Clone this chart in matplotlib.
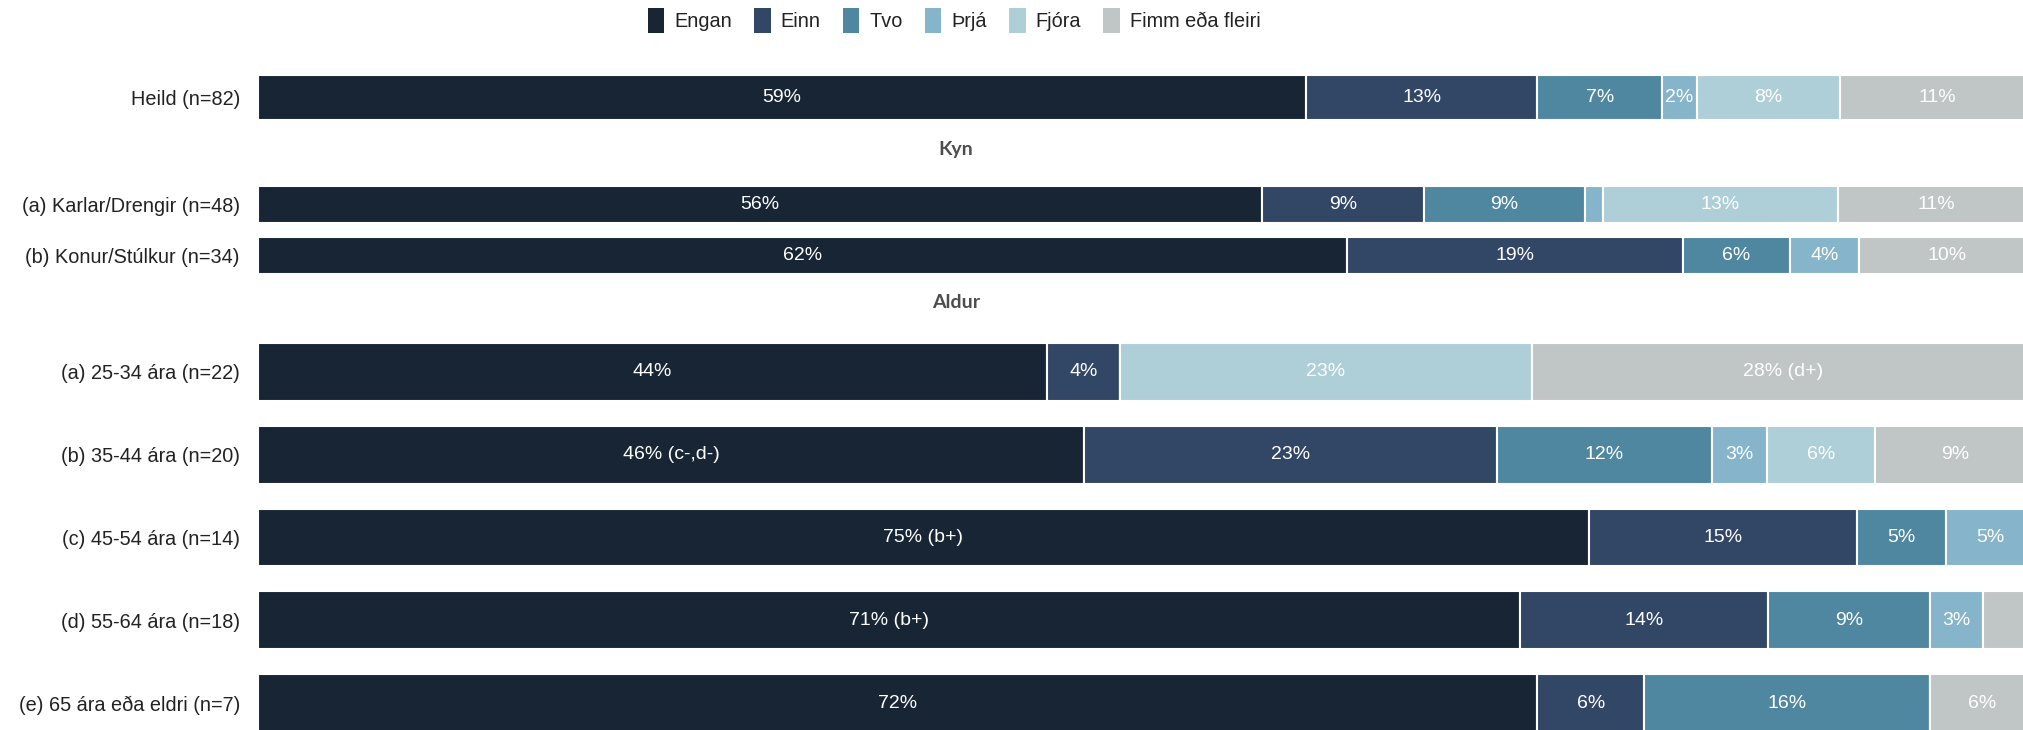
import matplotlib
matplotlib.use("Agg")
import matplotlib.pyplot as plt
from matplotlib.patches import Patch
import numpy as np

plt.rcParams['font.family'] = ['Liberation Sans', 'DejaVu Sans']

categories = ["Engan", "Einn", "Tvo", "Þrjá", "Fjóra", "Fimm eða fleiri"]
colors = ["#182535", "#324766", "#4f87a1", "#86b5cb", "#aecfd8", "#bfc6c5"]

# rows of each panel, values in % per category
heild_rows = ["Heild (n=82)"]
heild_vals = [[59.0, 13.0, 7.0, 2.0, 8.0, 11.0]]
heild_labels = [["59%", "13%", "7%", "2%", "8%", "11%"]]

kyn_rows = ["(a) Karlar/Drengir (n=48)", "(b) Konur/Stúlkur (n=34)"]
kyn_vals = [[56.5, 9.1, 9.1, 1.0, 13.2, 11.1],
            [61.3, 18.9, 6.0, 3.9, 0.0, 9.9]]
kyn_labels = [["56%", "9%", "9%", "", "13%", "11%"],
              ["62%", "19%", "6%", "4%", "", "10%"]]

aldur_rows = ["(a) 25-34 ára (n=22)", "(b) 35-44 ára (n=20)", "(c) 45-54 ára (n=14)",
              "(d) 55-64 ára (n=18)", "(e) 65 ára eða eldri (n=7)"]
aldur_vals = [[44.4, 4.1, 0.0, 0.0, 23.2, 28.3],
              [46.5, 23.2, 12.1, 3.1, 6.1, 9.0],
              [74.9, 15.1, 5.0, 5.0, 0.0, 0.0],
              [71.0, 14.0, 9.1, 3.0, 0.0, 2.9],
              [72.0, 6.0, 16.1, 0.0, 0.0, 5.9]]
aldur_labels = [["44%", "4%", "", "", "23%", "28% (d+)"],
                ["46% (c-,d-)", "23%", "12%", "3%", "6%", "9%"],
                ["75% (b+)", "15%", "5%", "5%", "", ""],
                ["71% (b+)", "14%", "9%", "3%", "", ""],
                ["72%", "6%", "16%", "", "", "6%"]]

W, H = 2024, 730
fig = plt.figure(figsize=(W / 100, H / 100), dpi=100)


def px_axes(top, bottom):
    # axes from pixel rows; x from 258px to 2035px (100% runs a bit past the edge)
    return fig.add_axes([258 / W, 1 - bottom / H, 1777 / W, (bottom - top) / H])


def draw_panel(ax, rows, vals, labels, bar_h):
    vals = np.array(vals)
    y = np.arange(len(rows))
    left = np.zeros(len(rows))
    for j, cat in enumerate(categories):
        ax.barh(y, vals[:, j], left=left, height=bar_h, color=colors[j],
                edgecolor="white", linewidth=1.5)
        for i in range(len(rows)):
            if labels[i][j]:
                ax.text(left[i] + vals[i, j] / 2, y[i], labels[i][j], ha="center",
                        va="center", color="white", fontsize=14)
        left += vals[:, j]
    ax.set_xlim(0, 100)
    ax.set_ylim(len(rows) - 0.5, -0.5)
    ax.set_yticks(y)
    ax.set_yticklabels(rows, fontsize=14.3, color="#222222")
    ax.tick_params(axis="y", length=0, pad=13)
    ax.set_xticks([])
    for s in ax.spines.values():
        s.set_visible(False)


ax1 = px_axes(72.5, 122.5)
draw_panel(ax1, heild_rows, heild_vals, heild_labels, 0.9)

ax2 = px_axes(179, 281)
draw_panel(ax2, kyn_rows, kyn_vals, kyn_labels, 0.737)

ax3 = px_axes(330.6, 744.4)
draw_panel(ax3, aldur_rows, aldur_vals, aldur_labels, 0.70)

# group headers
fig.text(956 / W, 1 - 150 / H, "Kyn", ha="center", va="center", fontsize=14,
         fontweight="bold", color="#4d4d4d", family=["Lato", "DejaVu Sans"])
fig.text(956 / W, 1 - 302 / H, "Aldur", ha="center", va="center", fontsize=14,
         fontweight="bold", color="#4d4d4d", family=["Lato", "DejaVu Sans"])

handles = [Patch(facecolor=c, edgecolor="none") for c in colors]
fig.legend(handles, categories, loc="center", bbox_to_anchor=(954 / W, 1 - 20.5 / H),
           ncol=6, frameon=False, fontsize=14.3, handlelength=0.85, handleheight=1.6,
           handletextpad=0.5, columnspacing=1.1, labelcolor="#222222")

fig.savefig("out.png", dpi=100)
